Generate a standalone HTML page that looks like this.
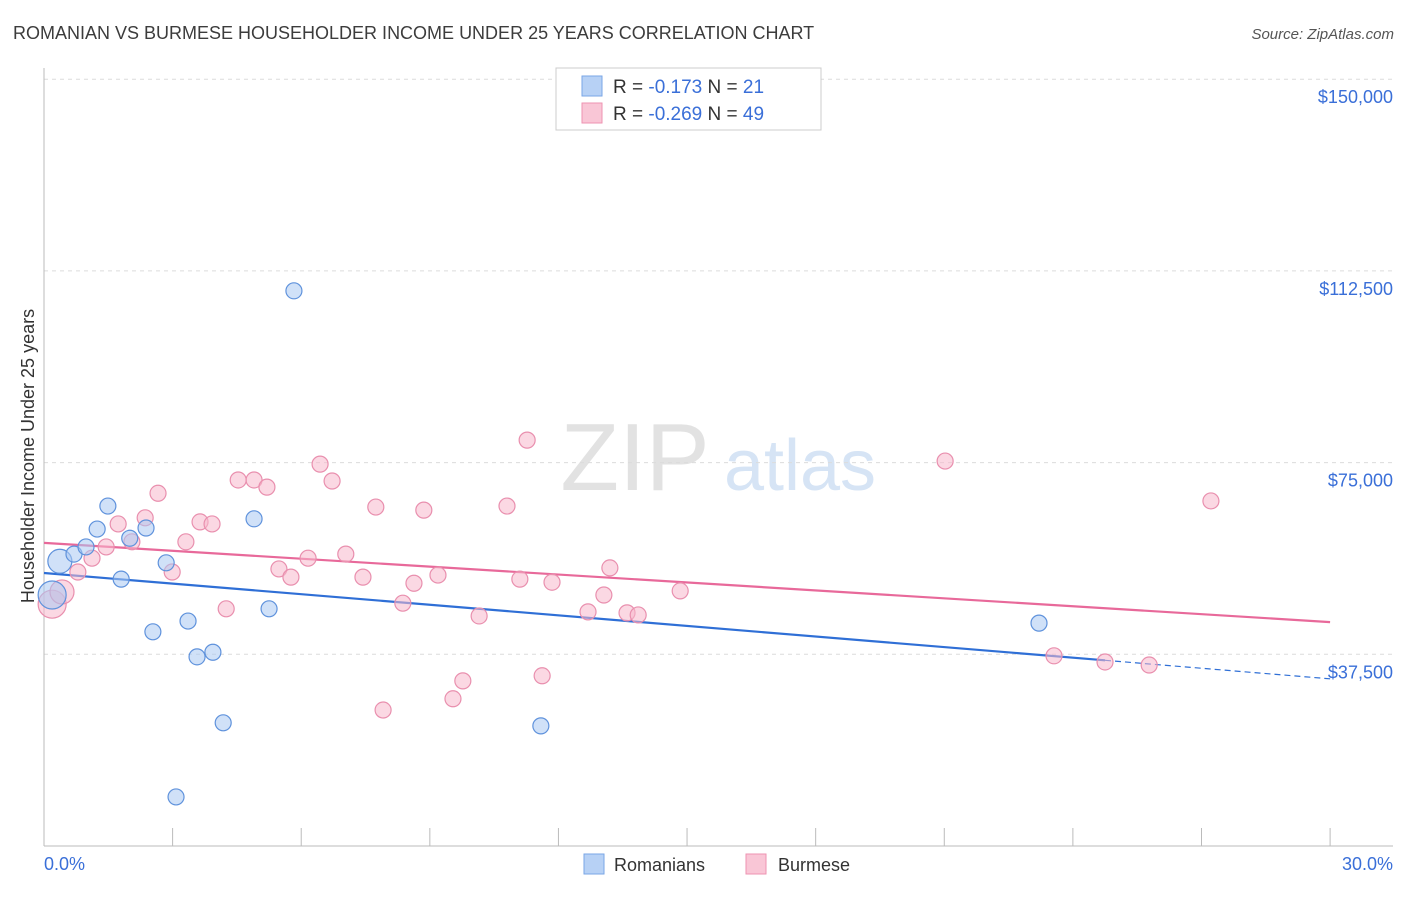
<!DOCTYPE html>
<html><head><meta charset="utf-8">
<style>
body{margin:0;background:#fff;font-family:"Liberation Sans",sans-serif;}
svg text{font-family:"Liberation Sans",sans-serif;}
</style></head>
<body>
<svg id="chart" width="1406" height="892" viewBox="0 0 1406 892" xmlns="http://www.w3.org/2000/svg">
<text x="13" y="39" font-size="18" fill="#3c3c3c">ROMANIAN VS BURMESE HOUSEHOLDER INCOME UNDER 25 YEARS CORRELATION CHART</text>
<text x="1394" y="39" font-size="15" fill="#555" text-anchor="end" font-style="italic">Source: ZipAtlas.com</text>
<g>
<text x="635" y="490" font-size="96" fill="#e2e2e2" text-anchor="middle" font-family="Liberation Serif, serif">ZIP</text>
<text x="800" y="490" font-size="72" fill="#d6e4f5" text-anchor="middle">atlas</text>
</g>
<g id="grid"></g>
<g id="axes"></g>
<g id="trends"></g>
<g id="points"></g>
<text transform="translate(34,456) rotate(-90)" font-size="18" fill="#333" text-anchor="middle">Householder Income Under 25 years</text>
<text x="44" y="870" font-size="18" fill="#3a6fd8">0.0%</text>
<text x="1393" y="870" font-size="18" fill="#3a6fd8" text-anchor="end">30.0%</text>
<g>
<rect x="556" y="68" width="265" height="62" fill="#fff" stroke="#ccc"/>
<rect x="582" y="76" width="20" height="20" fill="#b7d1f5" stroke="#7aa6e6"/>
<rect x="582" y="103" width="20" height="20" fill="#f9c6d6" stroke="#ee93b1"/>
<text x="613" y="93" font-size="19" fill="#333">R = <tspan fill="#3a6fd8">-0.173</tspan>   N = <tspan fill="#3a6fd8"> 21</tspan></text>
<text x="613" y="120" font-size="19" fill="#333">R = <tspan fill="#3a6fd8">-0.269</tspan>   N = <tspan fill="#3a6fd8">49</tspan></text>
</g>
<g>
<rect x="584" y="854" width="20" height="20" fill="#b7d1f5" stroke="#7aa6e6"/>
<text x="614" y="871" font-size="18" fill="#333">Romanians</text>
<rect x="746" y="854" width="20" height="20" fill="#f9c6d6" stroke="#ee93b1"/>
<text x="778" y="871" font-size="18" fill="#333">Burmese</text>
</g>
</svg>
<script>
const yTicks=[37500,75000,112500,150000];
const yTickLabels=["$37,500","$75,000","$112,500","$150,000"];
const romPct=[0.19,0.37,0.7,0.98,1.24,1.49,1.8,2.0,2.38,2.85,2.54,3.36,3.57,3.94,4.18,3.08,4.9,5.25,5.83,11.59,23.21];
const romVal=[49.1,55.7,57.1,58.5,62.0,66.5,52.2,60.2,62.2,55.4,41.9,44.0,37.0,37.9,24.1,9.6,64.0,46.4,108.6,23.5,43.6];
const burPct=[0.19,0.42,0.79,1.12,1.45,1.73,2.05,2.36,2.66,2.99,3.31,3.64,3.92,4.25,4.53,4.9,5.2,5.48,5.76,6.16,6.44,6.72,7.04,7.44,7.74,7.91,8.37,8.63,8.86,9.19,9.54,9.77,10.15,10.8,11.1,11.27,11.62,11.85,12.69,13.06,13.2,13.6,13.86,14.84,21.02,23.56,24.75,25.78,27.22];
const burVal=[47.3,49.7,53.6,56.3,58.5,63.0,59.5,64.2,69.0,53.6,59.5,63.4,63.0,46.4,71.6,71.6,70.2,54.2,52.6,56.3,74.7,71.4,57.1,52.6,66.3,26.6,47.5,51.4,65.7,53.0,28.8,32.3,45.0,66.5,52.2,79.4,33.3,51.6,45.8,49.1,54.4,45.6,45.2,49.9,75.3,37.2,36.0,35.4,67.5];
const romTrend=[53.4,32.7]; // values at 0% and 30%
const burTrend=[59.3,43.8];
const romSolidEnd=24.75;

const X=p=>44+p*42.87;
const Y=v=>846-v*191.7/37500;
const Yk=v=>Y(v*1000);
const NS="http://www.w3.org/2000/svg";
function mk(tag,attrs,parent){const e=document.createElementNS(NS,tag);for(const k in attrs)e.setAttribute(k,attrs[k]);parent.appendChild(e);return e;}
const grid=document.getElementById('grid'),axes=document.getElementById('axes'),trends=document.getElementById('trends'),pts=document.getElementById('points');
yTicks.forEach((t,i)=>{
 const l=mk('line',{x1:44,x2:1393,y1:Y(t),y2:Y(t),stroke:'#dcdcdc','stroke-dasharray':'4,4'},grid);
 
 
 const tx=mk('text',{x:1393,y:Y(t)+24,'font-size':18,fill:'#3a6fd8','text-anchor':'end'},axes);
 tx.textContent=yTickLabels[i];
 
 
});
const ya=mk('line',{x1:44,x2:44,y1:68,y2:846,stroke:'#bbb'},axes);


const xa=mk('line',{x1:44,x2:1393,y1:846,y2:846,stroke:'#bbb'},axes);


for(let i=1;i<=10;i++){
 const t=mk('line',{x1:X(i*3),x2:X(i*3),y1:828,y2:846,stroke:'#bbb'},axes);
 
 
}
function trend(vals,color,solidEnd,name){
 const f=p=>vals[0]+(vals[1]-vals[0])*p/30;
 const l=mk('line',{x1:X(0),y1:Yk(f(0)),x2:X(solidEnd),y2:Yk(f(solidEnd)),stroke:color,'stroke-width':2.2},trends);
 
 
 if(solidEnd<30){
  const d=mk('line',{x1:X(solidEnd),y1:Yk(f(solidEnd)),x2:X(30),y2:Yk(f(30)),stroke:color,'stroke-width':1.2,'stroke-dasharray':'6,4'},trends);
  
  
 }
}
trend(burTrend,'#e8699a',30,'burmese-trend-line');
trend(romTrend,'#2f6fd6',romSolidEnd,'romanians-trend-line');
function dots(ps,vs,fill,stroke,name){
 ps.forEach((p,i)=>{
  const r=i<2?(i==0?14:12):8;
  const c=mk('circle',{cx:X(p),cy:Yk(vs[i]),r:r,fill:fill,stroke:stroke,'stroke-width':1.2,'fill-opacity':0.55},pts);
  
  
 });
}
dots(burPct,burVal,'#f7b8cc','#e98fae','burmese-point');
dots(romPct,romVal,'#a9c8f2','#5f92dc','romanians-point');
</script>
</body></html>
